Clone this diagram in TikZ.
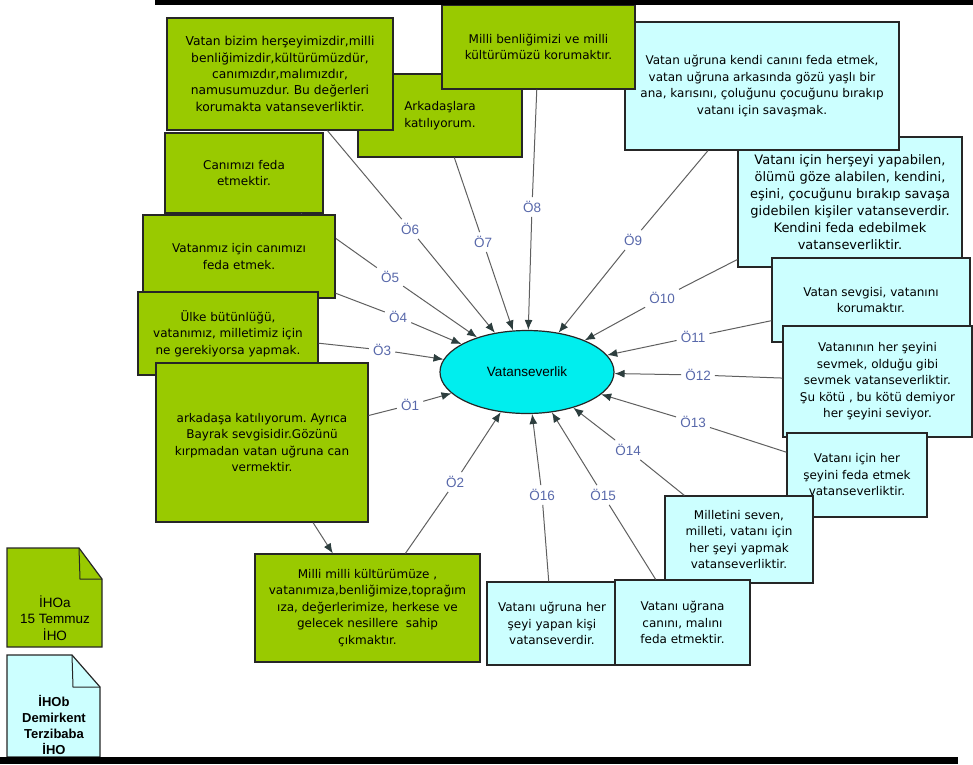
\documentclass[tikz,border=0pt]{standalone}
\usepackage{fontspec}
\setmainfont{DejaVu Sans}
\newfontfamily\arialfont{Liberation Sans}
\usetikzlibrary{shapes.geometric,arrows.meta}
\definecolor{boxgreen}{RGB}{153,202,0}
\definecolor{boxcyan}{RGB}{204,255,255}
\definecolor{ellcyan}{RGB}{0,238,238}
\definecolor{lblblue}{RGB}{88,104,170}
\definecolor{linegray}{RGB}{95,95,95}
\definecolor{tipgray}{RGB}{45,62,62}
\frenchspacing

\begin{document}
\begin{tikzpicture}[x=1pt,y=-1pt,
            gbox/.style={
              draw=black!85,
              line width=1.2pt,
              fill=boxgreen,
              align=center,
              inner sep=3pt,
              font=\fontsize{12}{16.5}\selectfont
            },
            cbox/.style={
              gbox,
              fill=boxcyan
            },
            olbl/.style={
              text=lblblue,
              inner sep=4pt,
              font=\arialfont\fontsize{13.5}{14}\selectfont
            },
            feed/.style={
              draw=linegray,
              line width=1pt
            },
            into/.style={
              feed,
              -{Latex[length=10pt,width=8pt,color=tipgray]}
            }
            ]
            \useasboundingbox (0,0) rectangle (973,764);

            % labels first, boxes and their lines over them
            \node[olbl] (o1) at (410,405) {Ö1};
            \node[olbl] (o2) at (455,482) {Ö2};
            \node[olbl] (o3) at (382,350) {Ö3};
            \node[olbl] (o4) at (398,317) {Ö4};
            \node[olbl] (o5) at (390,277) {Ö5};
            \node[olbl] (o6) at (410,229) {Ö6};
            \node[olbl] (o7) at (483,242) {Ö7};
            \node[olbl] (o8) at (532,207) {Ö8};
            \node[olbl] (o9) at (633,240) {Ö9};
            \node[olbl] (o10) at (662,298) {Ö10};
            \node[olbl] (o11) at (693,337) {Ö11};
            \node[olbl] (o12) at (698,375) {Ö12};
            \node[olbl] (o13) at (693,422) {Ö13};
            \node[olbl] (o14) at (628,450) {Ö14};
            \node[olbl] (o15) at (603,495) {Ö15};
            \node[olbl] (o16) at (542,495) {Ö16};

            \node[draw=black!85,line width=1.2pt,fill=ellcyan,ellipse,
              minimum width=174pt,minimum height=83pt,inner sep=0pt,
              font=\arialfont\fontsize{13.5}{14}\selectfont] (vs) at (527,372)
              {Vatanseverlik};

            % right side
            \node[cbox,minimum width=224pt,minimum height=130pt,
              font=\fontsize{13}{17}\selectfont] (c10) at (850,202)
              {Vatanı için herşeyi yapabilen,\\ ölümü göze alabilen, kendini,\\
               eşini, çocuğunu bırakıp savaşa\\ gidebilen kişiler vatanseverdir.\\
               Kendini feda edebilmek\\ vatanseverliktir.};
            \draw[feed] (c10) -- (o10);
            \node[cbox,minimum width=274pt,minimum height=128pt] (c9) at (762,86)
              {Vatan uğruna kendi canını feda etmek,\\ vatan uğruna arkasında gözü yaşlı bir\\
               ana, karısını, çoluğunu çocuğunu bırakıp\\ vatanı için savaşmak.};
            \draw[feed] (c9) -- (o9);
            \node[cbox,minimum width=198pt,minimum height=84pt] (c11) at (871,300)
              {Vatan sevgisi, vatanını\\ korumaktır.};
            \draw[feed] (c11) -- (o11);
            \node[cbox,minimum width=189pt,minimum height=111pt] (c12) at (877.5,381.5)
              {Vatanının her şeyini\\ sevmek, olduğu gibi\\ sevmek vatanseverliktir.\\
               Şu kötü , bu kötü demiyor\\ her şeyini seviyor.};
            \draw[feed] (c12) -- (o12);
            \node[cbox,minimum width=140pt,minimum height=84pt] (c13) at (857,475)
              {Vatanı için her\\ şeyini feda etmek\\ vatanseverliktir.};
            \draw[feed] (c13) -- (o13);
            \node[cbox,minimum width=148pt,minimum height=87pt] (c14) at (739,539.5)
              {Milletini seven,\\ milleti, vatanı için\\ her şeyi yapmak\\ vatanseverliktir.};
            \draw[feed] (c14) -- (o14);
            \node[cbox,minimum width=130pt,minimum height=83pt] (c16) at (552,623.5)
              {Vatanı uğruna her\\ şeyi yapan kişi\\ vatanseverdir.};
            \draw[feed] (c16) -- (o16);
            \node[cbox,minimum width=135pt,minimum height=85pt] (c15) at (682.5,622.5)
              {Vatanı uğrana\\ canını, malını\\ feda etmektir.};
            \draw[feed] (c15) -- (o15);

            % left side
            \node[gbox,minimum width=164pt,minimum height=83pt] (g7) at (440,115.5)
              {Arkadaşlara\\ katılıyorum.};
            \draw[feed] (g7) -- (o7);
            \node[gbox,minimum width=193pt,minimum height=84pt] (g8) at (538.5,47)
              {Milli benliğimizi ve milli\\ kültürümüzü korumaktır.};
            \draw[feed] (g8) -- (o8);
            \node[gbox,minimum width=226pt,minimum height=112pt,
              font=\fontsize{12.3}{16.3}\selectfont] (g6) at (280,74)
              {Vatan bizim herşeyimizdir,milli\\ benliğimizdir,kültürümüzdür,\\
               canımızdır,malımızdır,\\ namusumuzdur. Bu değerleri\\
               korumakta vatanseverliktir.};
            \draw[feed] (g6) -- (o6);
            \node[gbox,minimum width=158pt,minimum height=80pt] (g5) at (244,173)
              {Canımızı feda\\ etmektir.};
            \draw[feed] (g5) -- (o5);
            \node[gbox,minimum width=192pt,minimum height=83pt] (g4) at (239,256.5)
              {Vatanmız için canımızı\\ feda etmek.};
            \draw[feed] (g4) -- (o4);
            \node[gbox,minimum width=180pt,minimum height=83pt] (g3) at (228,333.5)
              {Ülke bütünlüğü,\\ vatanımız, milletimiz için\\ ne gerekiyorsa yapmak.};
            \draw[feed] (g3) -- (o3);
            \node[gbox,minimum width=212pt,minimum height=159pt] (g1) at (262,442.5)
              {arkadaşa katılıyorum. Ayrıca\\ Bayrak sevgisidir.Gözünü\\
               kırpmadan vatan uğruna can\\ vermektir.};
            \draw[feed] (g1) -- (o1);
            \node[gbox,minimum width=225pt,minimum height=108pt] (g2) at (367.5,608)
              {Milli milli kültürümüze ,\\ vatanımıza,benliğimize,toprağım\\
               ıza, değerlerimize, herkese ve\\ gelecek nesillere\ \ sahip\\ çıkmaktır.};
            \draw[feed] (g2) -- (o2);
            \draw[into] (g1) -- (g2);

            % into the centre
            \foreach \i in {1,...,16}
              \draw[into] (o\i) -- (vs);

            % school notes
            \draw[black!85,line width=1.2pt,fill=boxgreen]
              (7,548) -- (79,548) -- (102,579) -- (102,647) -- (7,647) -- cycle;
            \draw[black!85,line width=1pt] (79,548) -- (80,579) -- (102,579);
            \node[align=center,inner sep=0pt,
              font=\arialfont\fontsize{13.5}{16.3}\selectfont] (na) at (55,618)
              {İHOa\\ 15 Temmuz\\ İHO};
            \draw[black!85,line width=1.2pt,fill=boxcyan]
              (7,655) -- (72,655) -- (100,687) -- (100,757) -- (7,757) -- cycle;
            \draw[black!85,line width=1pt] (72,655) -- (73,687) -- (100,687);
            \node[align=center,inner sep=0pt,
              font=\arialfont\bfseries\fontsize{13}{16.3}\selectfont] (nb) at (54,725)
              {İHOb\\ Demirkent\\ Terzibaba\\ İHO};

            \fill[black] (155,0) rectangle (973,5);
            \fill[black] (0,757) rectangle (958,764);
            \end{tikzpicture}
\end{document}
